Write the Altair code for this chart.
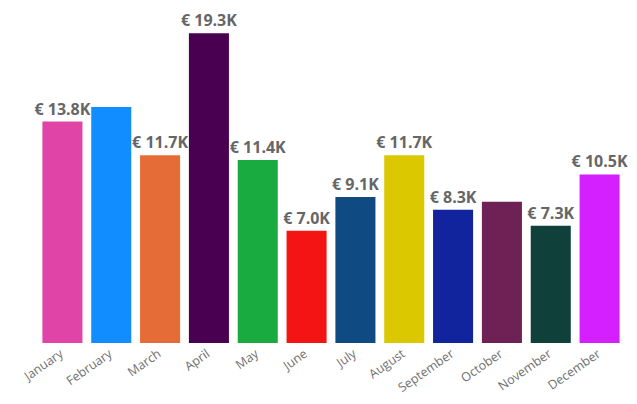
import altair as alt
import pandas as pd

months = ["January", "February", "March", "April", "May", "June", "July",
          "August", "September", "October", "November", "December"]
values = [13.8, 14.7, 11.7, 19.3, 11.4, 7.0, 9.1, 11.7, 8.3, 8.8, 7.3, 10.5]
show_label = [True, False, True, True, True, True, True, True, True, False, True, True]
colors = ["#E044A7", "#118DFF", "#E66C37", "#4A0050", "#1AAB40", "#F51414",
          "#0F4A82", "#DCC800", "#12239E", "#6D2155", "#0F403A", "#D41FFF"]

df = pd.DataFrame({
    "month": months,
    "value": values,
    "label": [f"€ {v:.1f}K" if s else "" for v, s in zip(values, show_label)],
})

x = alt.X("month:N", sort=months, title=None,
          scale=alt.Scale(paddingInner=0.18, paddingOuter=0.09),
          axis=alt.Axis(labelAngle=-35, labelAlign="right", labelBaseline="top",
                        labelPadding=4, labelOffset=-4, ticks=False, domain=False,
                        grid=False, labelFont="Open Sans", labelFontSize=12.5,
                        labelColor="#6f6f6f"))
y = alt.Y("value:Q", title=None, scale=alt.Scale(domain=[0, 20], nice=False),
          axis=None)

bars = alt.Chart(df).mark_bar().encode(
    x=x, y=y,
    color=alt.Color("month:N", sort=months, legend=None,
                    scale=alt.Scale(domain=months, range=colors)),
)

text = alt.Chart(df).mark_text(
    dy=-4, baseline="bottom", align="center", font="Open Sans",
    fontSize=16, fontWeight="bold", color="#666666"
).encode(x=x, y=y, text="label:N")

chart = (bars + text).properties(
    width=586, height=321,
    autosize=alt.AutoSizeParams(type="none"),
    padding={"left": 30, "top": 14, "right": 5, "bottom": 53},
).configure_view(stroke=None)

chart.save("out.html", embed_options={"renderer": "svg", "actions": False})
